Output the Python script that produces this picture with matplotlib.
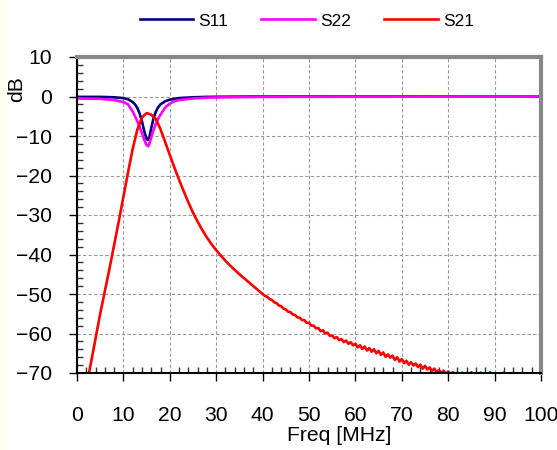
import numpy as np
import matplotlib
matplotlib.use("Agg")
from matplotlib import pyplot as plt
from matplotlib.patches import Rectangle

plt.rcParams['font.family'] = ['Liberation Sans', 'DejaVu Sans']

# S11 / S22 (freq in MHz, dB)
f_refl = [0, 5, 8, 10, 11, 12, 12.5, 13, 13.5, 14, 14.5, 15, 15.3, 15.6, 16, 16.5,
          17, 17.5, 18, 19, 20, 21, 22, 25, 28, 32, 40, 100]
s11 = [-0.1, -0.1, -0.2, -0.4, -0.7, -1.4, -2.0, -2.9, -4.3, -6.3, -8.8, -10.8, -11.0, -10.3,
       -8.0, -5.5, -3.8, -2.7, -2.0, -1.2, -0.8, -0.6, -0.4, -0.2, -0.1, -0.05, 0.0, 0.0]
s22 = [-0.5, -0.6, -0.9, -1.4, -2.0, -3.8, -5.0, -6.3, -7.7, -9.3, -11.0, -12.3, -12.6, -12.0,
       -10.3, -8.5, -6.9, -5.6, -4.6, -2.8, -1.8, -1.2, -0.9, -0.5, -0.3, -0.2, -0.1, 0.0]

# S21, 1 MHz steps up to 40, then 0.5 MHz steps (noisy part)
f_s21_a = list(range(2, 40))
s21_a = [-73.5, -67.5, -61.3, -55.0, -49.3, -43.6, -37.6, -31.6, -25.4, -19.2,
         -13.3, -8.4, -5.3, -4.2, -4.6, -5.7, -8.3, -11.5, -14.8, -18.0,
         -21.1, -24.0, -26.8, -29.4, -31.7, -33.8, -35.7, -37.4, -38.9, -40.3,
         -41.6, -42.8, -43.9, -45.0, -46.0, -47.0, -48.0, -49.0]
f_s21_b = list(np.arange(40, 100.5, 0.5))
s21_b = [-50.0, -50.5, -50.7, -51.3, -51.5, -52.1, -52.3, -52.9, -53.1, -53.7,
         -53.9, -54.5, -54.6, -55.2, -55.3, -55.9, -56.0, -56.6, -56.6, -57.3,
         -57.3, -58.0, -58.0, -58.7, -58.6, -59.4, -59.2, -60.0, -59.8, -60.6,
         -60.5, -61.2, -60.9, -61.7, -61.4, -62.2, -61.8, -62.6, -62.2, -63.0,
         -62.6, -63.5, -63.0, -63.9, -63.3, -64.3, -63.7, -64.6, -64.0, -65.0,
         -64.4, -65.4, -64.8, -65.9, -65.3, -66.1, -65.6, -66.7, -66.0, -67.1,
         -66.5, -67.5, -66.9, -67.9, -67.3, -68.1, -67.6, -68.5, -67.9, -68.9,
         -68.2, -69.1, -68.6, -69.5, -68.9, -69.8, -69.3, -70.0, -69.4, -70.2,
         -69.6, -70.3, -69.8, -70.4, -69.9, -70.5, -69.9, -70.6, -70.0, -70.7,
         -69.8, -70.8, -70.1, -70.6, -69.9, -70.9, -70.2, -70.8, -69.8, -70.9,
         -70.1, -71.0, -70.2, -70.8, -69.9, -71.0, -70.3, -71.1, -70.4, -70.9,
         -70.2, -71.2, -70.1, -71.0, -70.5, -71.2, -70.3, -71.1, -70.6, -71.2,
         -69.9]
f_s21 = f_s21_a + f_s21_b
s21 = s21_a + s21_b

x_ticks = list(range(0, 101, 10))
y_ticks = list(range(-70, 11, 10))

fs = 15.2      # axis text
fs_leg = 12.5  # legend text

fig = plt.figure(figsize=(5.57, 4.5), dpi=100)
# cream strip on the far left
fig.patches.append(Rectangle((0, 0), 8 / 557, 1, transform=fig.transFigure,
                             facecolor='#fffff0', edgecolor='none', zorder=0))

ax = fig.add_axes([77 / 557, 1 - 373 / 450, 464 / 557, 316 / 450])

ax.plot(f_refl, s11, color='#000080', lw=1.9, label='S11')
ax.plot(f_refl, s22, color='#ff00ff', lw=1.9, label='S22')
ax.plot(f_s21, s21, color='#ff0000', lw=1.9, label='S21')

ax.set_xlim(0, 100)
ax.set_ylim(-70, 10)
ax.set_xticks(x_ticks)
ax.set_yticks(y_ticks)
ax.set_xticks(np.arange(0, 101, 2), minor=True)
ax.set_yticks(np.arange(-70, 11, 2), minor=True)

ax.grid(True, which='major', color='#999999', linestyle=(0, (3, 2)), lw=0.8)
ax.tick_params(which='major', direction='out', length=6, width=1, labelsize=fs)
ax.tick_params(axis='y', which='major', pad=12)
ax.tick_params(axis='x', which='major', pad=17.5)
ax.tick_params(which='minor', direction='in', length=4, width=1, color='#333333')

for side in ['left', 'bottom']:
    ax.spines[side].set_color('black')
    ax.spines[side].set_linewidth(1.5)
for side in ['top', 'right']:
    ax.spines[side].set_color('#888888')
    ax.spines[side].set_linewidth(3)

fig.text(17 / 557, 1 - 89 / 450, 'dB', rotation=90, ha='center', va='center', fontsize=fs)
fig.text(339 / 557, 1 - 441 / 450, 'Freq [MHz]', ha='center', va='baseline', fontsize=fs)

fig.legend(loc='center', bbox_to_anchor=(307 / 557, 1 - 21 / 450), ncol=3, frameon=False,
           fontsize=fs_leg, handlelength=3.1, handletextpad=0.3, columnspacing=1.9)

fig.savefig('out.png', dpi=100)
